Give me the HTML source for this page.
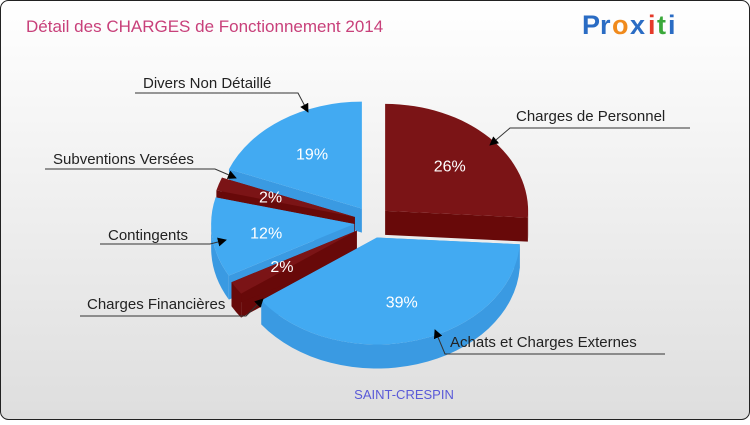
<!DOCTYPE html>
<html><head><meta charset="utf-8"><style>
html,body{margin:0;padding:0;}
body{width:750px;height:420px;overflow:hidden;font-family:"Liberation Sans",sans-serif;}
</style></head><body>
<svg id="chart" width="750" height="420" viewBox="0 0 750 420" xmlns="http://www.w3.org/2000/svg">
<defs>
<linearGradient id="bg" x1="0" y1="0" x2="0" y2="1"><stop offset="0" stop-color="#ffffff"/><stop offset="1" stop-color="#dedede"/></linearGradient>
<marker id="arr" viewBox="0 0 10 10" refX="9" refY="5" markerWidth="9" markerHeight="9" orient="auto"><path d="M0,0 L10,5 L0,10 z" fill="#000"/></marker>
</defs>
<rect x="0.5" y="0.5" width="749" height="419" rx="8" fill="url(#bg)" stroke="#222" stroke-width="1"/>
<text x="26" y="32" font-size="17" fill="#c8407a">Détail des CHARGES de Fonctionnement 2014</text>
<g font-size="27" font-weight="bold" font-family="Liberation Sans, sans-serif">
<text x="582" y="34" fill="#2a6cc4">P</text><text x="600" y="34" fill="#2a6cc4">r</text><text x="612" y="34" fill="#f08a1c">o</text><text x="630" y="34" fill="#2a6cc4">x</text><text x="648" y="34" fill="#e53a2a">i</text><text x="657" y="34" fill="#3aa83a">t</text><text x="668" y="34" fill="#2a6cc4">i</text>
</g>
<g id="slices"></g>
<g id="labels" font-size="15" fill="#222"></g>
<text x="404" y="399" font-size="13" fill="#5a5ad8" text-anchor="middle">SAINT-CRESPIN</text>
</svg>
<script>
const categories = ["Charges de Personnel","Achats et Charges Externes","Charges Financières","Contingents","Subventions Versées","Divers Non Détaillé"];
const values = [26,39,2,12,2,19];
const pctLabels = ["26%","39%","2%","12%","2%","19%"];
const colorsTop = ["#7b1416","#42aaf2","#7b1416","#42aaf2","#7b1416","#42aaf2"];
const colorsSide = ["#680909","#3a9ae2","#680909","#3a9ae2","#680909","#3a9ae2"];

const NS="http://www.w3.org/2000/svg";
const cx=372, cy=222, rx=143, ry=107, depth=24, explode=18;
const total=values.reduce((a,b)=>a+b,0);
const g=document.getElementById('slices');
function el(tag,attrs){const e=document.createElementNS(NS,tag);for(const k in attrs)e.setAttribute(k,attrs[k]);return e;}
function pt(t,ox,oy,dy){return [cx+ox+rx*Math.cos(t), cy+oy+ry*Math.sin(t)+(dy||0)];}
const slices=[];let a=-Math.PI/2;
values.forEach((v,i)=>{const s=a,e=a+v/total*2*Math.PI;a=e;const m=(s+e)/2;
 slices.push({i,s,e,m,ox:explode*Math.cos(m),oy:explode*0.9*Math.sin(m)});});
const sides=el('g',{});


g.appendChild(sides);
slices.slice().sort((p,q)=>Math.sin(p.m)-Math.sin(q.m)).forEach(sl=>{
 const {s,e,ox,oy,i}=sl;
 [s,e].forEach(t=>{const c=[cx+ox,cy+oy];const p=pt(t,ox,oy);
  const w=el('path',{d:`M${c[0]},${c[1]} L${p[0]},${p[1]} L${p[0]},${p[1]+depth} L${c[0]},${c[1]+depth} Z`,fill:colorsSide[i]});
  sides.appendChild(w);});
 const fs=Math.max(s,0), fe=Math.min(e,Math.PI);
 const ranges=[];
 if(fe>fs) ranges.push([fs,fe]);
 if(e>2*Math.PI){const r2s=Math.max(s,2*Math.PI), r2e=Math.min(e,3*Math.PI); if(r2e>r2s) ranges.push([r2s,r2e]);}
 ranges.forEach(([u,w])=>{const p1=pt(u,ox,oy),p2=pt(w,ox,oy);
  const d=`M${p1[0]},${p1[1]} A${rx},${ry} 0 0 1 ${p2[0]},${p2[1]} L${p2[0]},${p2[1]+depth} A${rx},${ry} 0 0 0 ${p1[0]},${p1[1]+depth} Z`;
  const w2=el('path',{d,fill:colorsSide[i]});sides.appendChild(w2);});
});
slices.forEach(sl=>{const {s,e,m,ox,oy,i}=sl;
 const p1=pt(s,ox,oy),p2=pt(e,ox,oy);const large=(e-s)>Math.PI?1:0;
 const path=el('path',{d:`M${cx+ox},${cy+oy} L${p1[0]},${p1[1]} A${rx},${ry} 0 ${large} 1 ${p2[0]},${p2[1]} Z`,fill:colorsTop[i]});
 
 
 g.appendChild(path);
 const r=0.62;const lx=cx+ox+rx*r*Math.cos(m), ly=cy+oy+ry*r*Math.sin(m)+6;
 const t=el('text',{x:lx,y:ly,'text-anchor':'middle','font-size':'16',fill:'#fff'});
 
 
 t.textContent=pctLabels[i];g.appendChild(t);
});
const callouts=[
 {i:0,tx:516,ty:121,line:[[690,128],[510,128],[490,145]]},
 {i:1,tx:450,ty:347,line:[[665,354],[445,354],[435,330]]},
 {i:2,tx:87,ty:309,line:[[80,316],[246,316],[263,299]]},
 {i:3,tx:108,ty:240,line:[[100,244],[210,244],[226,240]]},
 {i:4,tx:53,ty:164,line:[[45,169],[215,169],[236,178]]},
 {i:5,tx:143,ty:88,line:[[135,93],[298,93],[308,112]]}
];
const lg=document.getElementById('labels');
callouts.forEach(c=>{
 const pl=el('polyline',{points:c.line.map(p=>p.join(',')).join(' '),fill:'none',stroke:'#333','stroke-width':'1','marker-end':'url(#arr)'});
 
 
 lg.appendChild(pl);
 const t=el('text',{x:c.tx,y:c.ty,'text-anchor':'start'});
 
 
 t.textContent=categories[c.i];lg.appendChild(t);
});
</script>
</body></html>
